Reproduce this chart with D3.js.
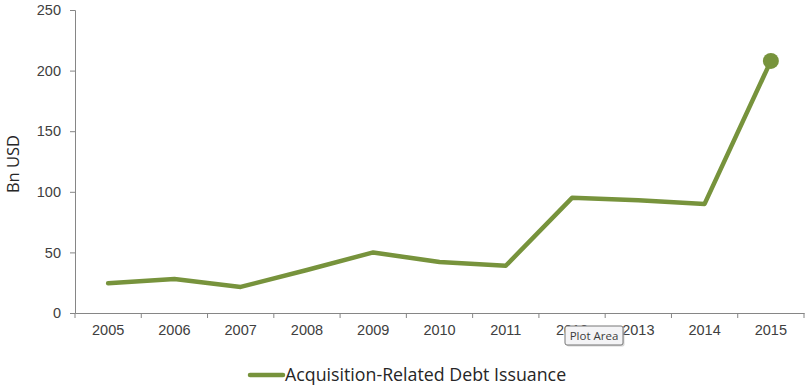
<!DOCTYPE html>
<html>
<head>
<meta charset="utf-8">
<script src="https://cdn.jsdelivr.net/npm/d3@7"></script>
<style>
  body { margin: 0; background: #fff; }
  svg { font-family: "Open Sans", "DejaVu Sans", sans-serif; }
</style>
</head>
<body>
<div id="chart"></div>
<script>
var w = 810, h = 390;
var years = ["2005","2006","2007","2008","2009","2010","2011","2012","2013","2014","2015"];
var issuance = [24.5, 28, 21.5, 35.5, 50, 42, 39, 95, 93, 90, 208];
var yTicks = [0, 50, 100, 150, 200, 250];
var seriesName = "Acquisition-Related Debt Issuance";
var green = "#77933c";
var grey = "#868686";

var svg = d3.select("#chart").append("svg")
  .attr("width", w).attr("height", h);

var x = d3.scaleBand().domain(years).range([75, 804]);
var y = d3.scaleLinear().domain([0, 250]).range([313, 10]);

// y axis
var yAxis = svg.append("g")
  .attr("transform", "translate(75,0)")
  .call(d3.axisLeft(y).tickValues(yTicks).tickSize(5).tickPadding(9));
yAxis.select(".domain").attr("stroke", grey);
yAxis.selectAll(".tick line").attr("stroke", grey);
yAxis.selectAll("text").attr("font-size", "14.5px").attr("fill", "#404040");

// x axis
var xAxis = svg.append("g")
  .attr("transform", "translate(0,313)")
  .call(d3.axisBottom(x).tickSize(0).tickPadding(12));
xAxis.select(".domain").attr("stroke", grey);
xAxis.selectAll("text").attr("font-size", "14.5px").attr("fill", "#404040");
// ticks between categories
xAxis.selectAll(".sep")
  .data(d3.range(years.length + 1))
  .enter().append("line")
  .attr("x1", function(i) { return x.range()[0] + i * x.step(); })
  .attr("x2", function(i) { return x.range()[0] + i * x.step(); })
  .attr("y1", 0).attr("y2", 5)
  .attr("stroke", grey);

// axis title
svg.append("text")
  .attr("transform", "translate(19,164) rotate(-90)")
  .attr("text-anchor", "middle")
  .attr("font-size", "16.5px")
  .attr("fill", "#262626")
  .text("Bn USD");

// line
var line = d3.line()
  .x(function(d, i) { return x(years[i]) + x.bandwidth() / 2; })
  .y(function(d) { return y(d); });

svg.append("path")
  .datum(issuance)
  .attr("d", line)
  .attr("fill", "none")
  .attr("stroke", green)
  .attr("stroke-width", 4.5)
  .attr("stroke-linejoin", "round")
  .attr("stroke-linecap", "round");

// marker on the last point
var last = issuance.length - 1;
svg.append("circle")
  .attr("cx", x(years[last]) + x.bandwidth() / 2)
  .attr("cy", y(issuance[last]))
  .attr("r", 8)
  .attr("fill", green);

// legend
svg.append("line")
  .attr("x1", 250).attr("x2", 283)
  .attr("y1", 375).attr("y2", 375)
  .attr("stroke", green).attr("stroke-width", 4.5)
  .attr("stroke-linecap", "round");
svg.append("text")
  .attr("x", 285).attr("y", 381)
  .attr("font-size", "17.8px")
  .attr("fill", "#262626")
  .text(seriesName);

// the "Plot Area" tooltip seen in the screenshot, covering part of "2012"
var tip = svg.append("g").attr("transform", "translate(565,326)");
tip.append("rect")
  .attr("x", 1.5).attr("y", 1.5).attr("width", 58).attr("height", 19).attr("rx", 2)
  .attr("fill", "#bdbdbd").attr("opacity", 0.6);
tip.append("rect")
  .attr("width", 58).attr("height", 19).attr("rx", 2)
  .attr("fill", "#f4f4f6").attr("stroke", "#767676");
tip.append("text")
  .attr("x", 29).attr("y", 14)
  .attr("text-anchor", "middle")
  .attr("font-size", "11.5px")
  .attr("fill", "#3c3c3c")
  .text("Plot Area");
</script>
</body>
</html>
